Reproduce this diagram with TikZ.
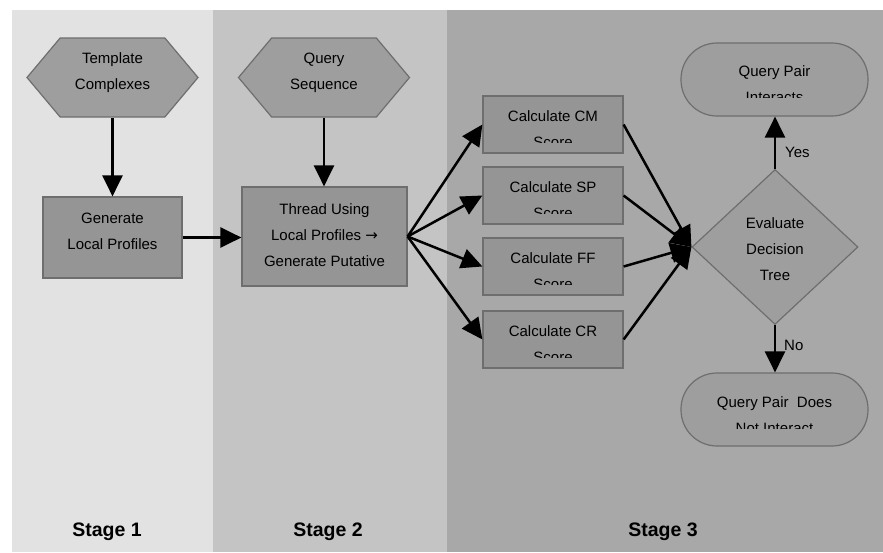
\documentclass[tikz,border=0pt]{standalone}
\usepackage{fontspec}
\setmainfont{Liberation Sans}
\newfontfamily\dejavu{DejaVu Sans}
\usetikzlibrary{arrows.meta,shapes.geometric,shapes.symbols}
\definecolor{bgone}{gray}{0.886}
\definecolor{bgtwo}{gray}{0.77}
\definecolor{bgthree}{gray}{0.66}
\definecolor{boxfill}{gray}{0.585}
\definecolor{shapefill}{gray}{0.62}
\definecolor{edgec}{gray}{0.43}
\begin{document}
\begin{tikzpicture}[x=1pt,y=-1pt,
 lbl/.style={font=\fontsize{15}{26}\selectfont, align=center, inner sep=0},
 stagelbl/.style={font=\fontsize{19.5}{22}\selectfont\bfseries, inner sep=0},
 hexbox/.style={signal, signal to=west and east, signal pointer angle=100, fill=shapefill, draw=edgec, line width=1.2pt, minimum width=171pt, minimum height=79pt, inner sep=0},
 procbox/.style={rectangle, fill=boxfill, draw=edgec, line width=1.2pt, inner sep=0},
 pill/.style={rectangle, rounded corners=36pt, fill=shapefill, draw=edgec, line width=1.2pt, minimum width=187pt, minimum height=73pt, inner sep=0},
 decision/.style={diamond, aspect=1.07, fill=shapefill, draw=edgec, line width=1.2pt, minimum width=166pt, minimum height=155pt, inner sep=0},
 flow/.style={line width=2.5pt, -{Triangle[length=21pt,width=20pt]}},
]
\useasboundingbox (0,0) rectangle (883,552);
\fill[white] (0,0) rectangle (883,552);
\fill[bgone] (12,10) rectangle (213,552);
\fill[bgtwo] (213,10) rectangle (447,552);
\fill[bgthree] (447,10) rectangle (883,552);

\node[hexbox] (tc) at (112.5,77.5) {};
\node[lbl] (tct) at (112.5,73) {Template\\Complexes};
\node[hexbox] (qs) at (324,77.5) {};
\node[lbl] (qst) at (324,73) {Query\\Sequence};

\node[procbox, minimum width=139pt, minimum height=81pt] (glp) at (112.5,237.5) {};
\node[lbl] (glpt) at (112.5,231) {Generate\\Local Profiles};
\node[procbox, minimum width=165pt, minimum height=99pt] (thr) at (324.5,236.5) {};
\node[lbl] (thrt) at (324.5,235) {Thread Using\\Local Profiles {\dejavu →}\\Generate Putative};

\foreach \nm/\tp/\lab in {cm/96/CM, sp/167/SP, ff/238/FF, cr/311/CR}{
  \node[procbox, minimum width=140pt, minimum height=57pt] (\nm) at (553,\tp+28.5) {};
  \begin{scope}
    \clip (483,\tp) rectangle (623,\tp+46);
    \node[lbl] (\nm t) at (553,\tp+33) {Calculate \lab\\Score};
  \end{scope}
}

\node[pill] (qpi) at (774.5,79.5) {};
\begin{scope}
  \clip (681,43) rectangle (868,97);
  \node[lbl] (qpit) at (774.5,84) {Query Pair\\Interacts};
\end{scope}
\node[pill] (qpn) at (774.5,409.5) {};
\begin{scope}
  \clip (681,373) rectangle (868,428);
  \node[lbl] (qpnt) at (774.5,415) {Query Pair\ \ Does\\Not Interact};
\end{scope}

\node[decision] (dt) at (775,247) {};
\node[lbl] (dtt) at (775,249) {Evaluate\\Decision\\Tree};

\draw[flow] (tc.south) -- (tc.south |- glp.north);
\draw[flow] (qs.south) -- (qs.south |- thr.north);
\draw[flow] (glp.east) -- (glp.east -| thr.west);
\foreach \nm in {cm,sp,ff,cr}{
  \draw[flow] (thr.east) -- (\nm.west);
  \draw[flow] (\nm.east) -- (dt.west);
}
\draw[flow] (dt.north) -- (dt.north |- qpi.south);
\draw[flow] (dt.south) -- (dt.south |- qpn.north);
\node[lbl, anchor=west] (yes) at (785,152) {Yes};
\node[lbl, anchor=west] (no) at (784,345) {No};

\node[stagelbl] (s1) at (107,532) {Stage 1};
\node[stagelbl] (s2) at (328,532) {Stage 2};
\node[stagelbl] (s3) at (663,532) {Stage 3};
\end{tikzpicture}
\end{document}
